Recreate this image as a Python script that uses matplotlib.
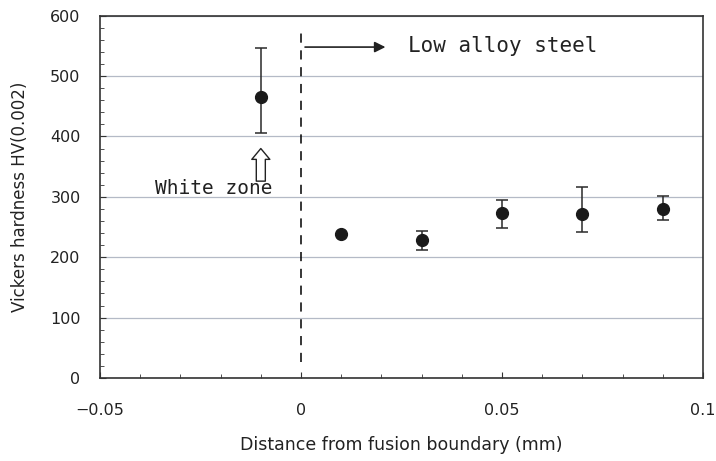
import matplotlib
matplotlib.use("Agg")
import matplotlib.pyplot as plt
from matplotlib.ticker import MultipleLocator

# ── data ───────────────────────────────────────────────────────────────────
distance = [-0.01, 0.01, 0.03, 0.05, 0.07, 0.09]
hardness = [465, 239, 229, 274, 272, 280]
err_high = [547, 239, 243, 295, 317, 302]
err_low = [405, 239, 212, 249, 242, 262]

yerr = [
    [h - lo for h, lo in zip(hardness, err_low)],
    [hi - h for h, hi in zip(hardness, err_high)],
]

fig = plt.figure(figsize=(7.16, 4.61), dpi=100)
ax = fig.add_axes([0.1397, 0.180, 0.8421, 0.786])

ax.errorbar(distance, hardness, yerr=yerr, fmt="o", color="#1a1a1a",
            markersize=8.5, ecolor="#2a2a2a", elinewidth=1.1,
            capsize=4, capthick=1.1, zorder=3)

# fusion boundary
ax.plot([0, 0], [27, 573], color="black", linestyle=(0, (6, 5)),
        linewidth=1.1, zorder=2)

# annotations
ax.annotate("", xy=(0.021, 548), xytext=(0.001, 548),
            arrowprops=dict(arrowstyle="-|>", color="#222222", lw=1.2,
                            mutation_scale=16, shrinkA=0, shrinkB=0))
ax.text(0.0265, 549, "Low alloy steel", fontsize=15,
        family="DejaVu Sans Mono", color="#222222", va="center", ha="left")

ax.annotate("", xy=(-0.01, 380), xytext=(-0.01, 326),
            arrowprops=dict(arrowstyle="simple,head_width=1.0,tail_width=0.5,head_length=0.6",
                            facecolor="white", edgecolor="#222222", lw=1.0,
                            mutation_scale=13, shrinkA=0, shrinkB=0))
ax.text(-0.0216, 314, "White zone", fontsize=14,
        family="DejaVu Sans Mono", color="#222222", va="center", ha="center")

# axes
ax.set_xlim(-0.05, 0.1)
ax.set_ylim(0, 600)
ax.set_xticks([-0.05, 0, 0.05, 0.1])
ax.set_xticklabels(["\u22120.05", "0", "0.05", "0.1"])
ax.set_yticks(range(0, 601, 100))
ax.xaxis.set_minor_locator(MultipleLocator(0.01))
ax.yaxis.set_minor_locator(MultipleLocator(20))
ax.tick_params(which="both", direction="in", top=False, right=False,
               colors="#333333", labelcolor="#222222", labelsize=11.5)
ax.tick_params(which="major", length=4)
ax.tick_params(which="minor", length=3)
ax.tick_params(axis="y", pad=14)
ax.tick_params(axis="x", pad=18)

ax.grid(axis="y", color="#b4bac6", linewidth=0.9)
ax.set_axisbelow(True)
for side in ax.spines.values():
    side.set_color("#333333")
    side.set_linewidth(1.2)

ax.set_xlabel("Distance from fusion boundary (mm)", fontsize=12.5,
              color="#222222", labelpad=13)
ax.set_ylabel("Vickers hardness HV(0.002)", fontsize=12,
              color="#222222", labelpad=15)

fig.savefig("out.png", dpi=100)
